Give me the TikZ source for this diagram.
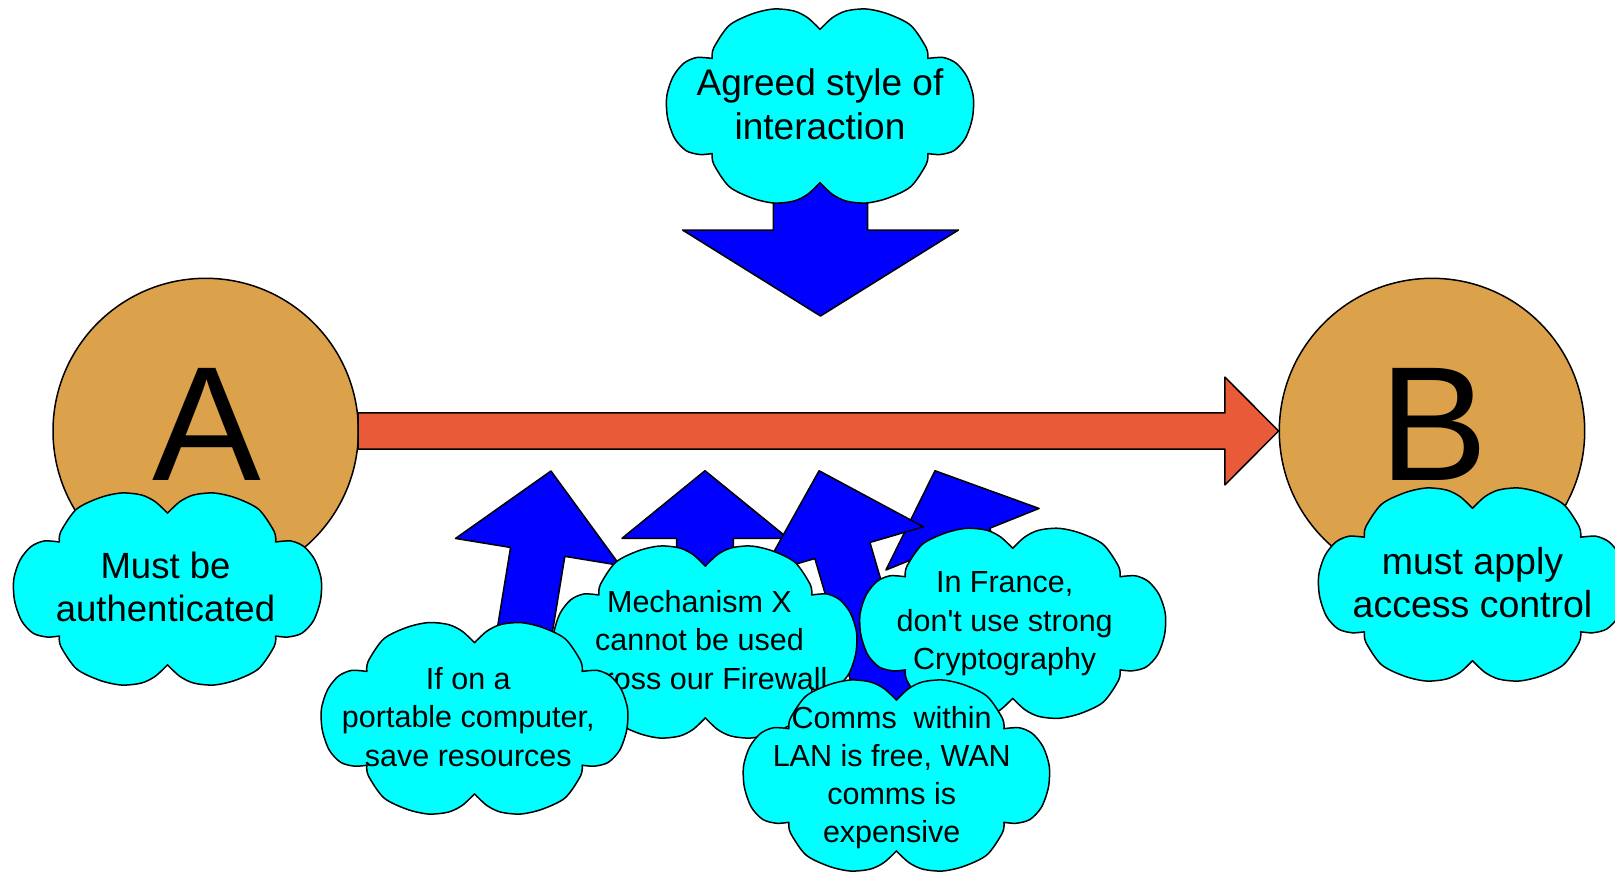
\documentclass[tikz,border=0pt]{standalone}
\usepackage{fontspec}
\setmainfont{Liberation Sans}
\usetikzlibrary{calc}

\definecolor{discfill}{HTML}{DCA24B}
\definecolor{flowfill}{HTML}{E95A38}
\definecolor{pushfill}{HTML}{0000FF}
\definecolor{cloudfill}{HTML}{00FFFF}

% straight apostrophe, set as a glyph so no TeX quote mapping applies
\newcommand{\straightquote}{\XeTeXglyph\XeTeXcharglyph"0027\relax}

% cloud outline in unit coordinates (y pointing down), six puffs
\newcommand{\cloudbody}[4]{%
  \filldraw[cloudstyle, shift={(#1,#2)}, xscale=#3, yscale=#4]
    plot[smooth] coordinates {(-0.70,-0.49) (-0.69,-0.60) (-0.59,-0.83) (-0.44,-0.95) (-0.30,-1.0) (-0.17,-0.98) (-0.08,-0.91) (0,-0.79)}
 -- plot[smooth] coordinates {(0,-0.79) (0.08,-0.91) (0.17,-0.98) (0.30,-1.0) (0.44,-0.95) (0.59,-0.83) (0.69,-0.60) (0.70,-0.49)}
 -- plot[smooth] coordinates {(0.70,-0.49) (0.80,-0.50) (0.885,-0.44) (0.955,-0.30) (0.995,-0.10) (0.99,0.12) (0.945,0.33) (0.87,0.46) (0.78,0.50) (0.70,0.49)}
 -- plot[smooth] coordinates {(0.70,0.49) (0.69,0.60) (0.59,0.83) (0.44,0.95) (0.30,1.0) (0.17,0.98) (0.08,0.91) (0,0.79)}
 -- plot[smooth] coordinates {(0,0.79) (-0.08,0.91) (-0.17,0.98) (-0.30,1.0) (-0.44,0.95) (-0.59,0.83) (-0.69,0.60) (-0.70,0.49)}
 -- plot[smooth] coordinates {(-0.70,0.49) (-0.78,0.50) (-0.87,0.46) (-0.945,0.33) (-0.99,0.12) (-0.995,-0.10) (-0.955,-0.30) (-0.885,-0.44) (-0.80,-0.50) (-0.70,-0.49)}
 -- cycle;}

% block arrow: head-base centre (#1,#2), direction #3, head length #4,
% head half width #5, shaft half width #6, tail length #7
\newcommand{\blockarrow}[7]{%
  \filldraw[pushstyle, shift={(#1,#2)}, rotate=#3]
    (-#7,-#6) -- (0,-#6) -- (0,-#5) -- (#4,0) -- (0,#5) -- (0,#6) -- (-#7,#6) -- cycle;}

\begin{document}
\begin{tikzpicture}[x=1pt, y=-1pt, line join=round,
  outline/.style={draw=black, line width=1.5pt},
  cloudstyle/.style={outline, fill=cloudfill},
  pushstyle/.style={outline, fill=pushfill},
  disc/.style={circle, outline, fill=discfill, minimum size=305.4pt, inner sep=0pt},
  letter/.style={anchor=base, inner sep=0pt, font=\fontsize{163}{163}\selectfont},
  bigtext/.style={align=center, inner sep=0pt, font=\fontsize{36.5}{43}\selectfont},
  smalltext/.style={align=center, inner sep=0pt, font=\fontsize{30.5}{38.2}\selectfont}]

\useasboundingbox (0,0) rectangle (1615,871);

% the two parties
\node[disc] (A) at (205.7,431) {};
\node[disc] (B) at (1432,431) {};
\node[letter] (lA) at (207,480.7) {A};
\node[letter] (lB) at (1434,480.7) {B};

% interaction from A to B
\filldraw[outline, fill=flowfill]
  ($(A.east)+(-1,-18.2)$) -- ($(B.west)+(-53.6,-18.2)$) -- ($(B.west)+(-53.6,-53.9)$)
  -- (B.west) -- ($(B.west)+(-53.6,53.9)$) -- ($(B.west)+(-53.6,18.2)$)
  -- ($(A.east)+(-1,18.2)$) -- cycle;

% requirements on each party
\cloudbody{167.5}{589}{154.5}{96}
\node[bigtext] (auth) at (165.5,587) {Must be\\authenticated};
\cloudbody{1472.5}{584.5}{154.5}{96.5}
\node[bigtext, font=\fontsize{37.5}{43}\selectfont] (acl) at (1472.5,583) {must apply\\access control};

% agreed style pressing down on the interaction
\blockarrow{820.5}{230}{-90}{86}{138}{47.2}{80}
\cloudbody{820}{106}{154}{97}
\node[bigtext, font=\fontsize{37}{44}\selectfont] (style) at (820,104.5) {Agreed style of\\interaction};

% constraints pushing up on the interaction
\blockarrow{537.7}{551.9}{80.7}{82}{83.3}{27.5}{110}
\blockarrow{705}{538.3}{90}{67.6}{83}{28.3}{90}
\blockarrow{962.5}{539.2}{111.9}{73.8}{82.5}{29.3}{110}
\blockarrow{842.4}{550.5}{106.3}{83.1}{84.4}{28.7}{200}

\cloudbody{705.3}{642}{152}{96}
\node[smalltext] (mech) at (699.5,640) {Mechanism X\\cannot be used\\across our Firewall};
\cloudbody{1012.7}{623.3}{153.4}{95}
\node[smalltext] (france) at (1004.7,623.7) {In France,\\don\straightquote t use strong\\Cryptography};
\cloudbody{896.4}{775.5}{153.6}{95.5}
\node[smalltext] (comms) at (891.7,777.6) {Comms\ \ within\\LAN is free, WAN\\comms is\\expensive};
\cloudbody{474.5}{718.3}{153.8}{95.7}
\node[smalltext] (portable) at (468.3,717) {If on a\\portable computer,\\save resources};

\end{tikzpicture}
\end{document}
